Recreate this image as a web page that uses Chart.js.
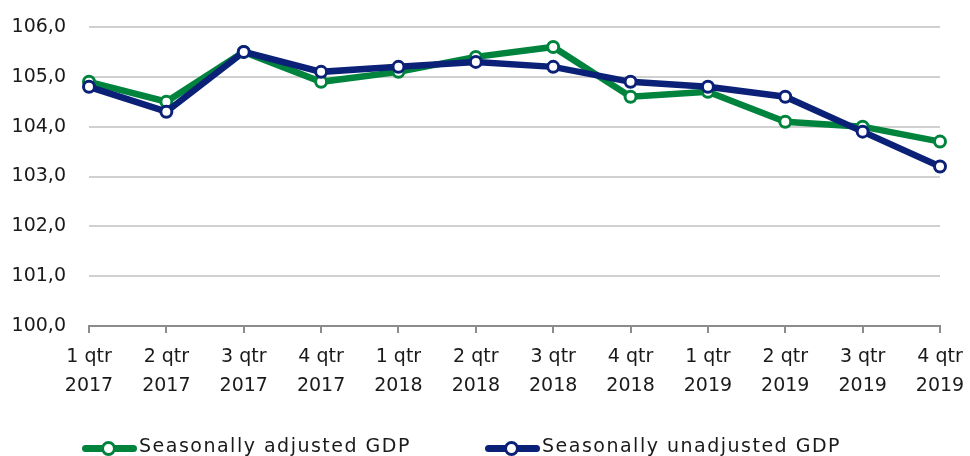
<!DOCTYPE html>
<html>
<head>
<meta charset="utf-8">
<script src="https://cdn.jsdelivr.net/npm/chart.js@4/dist/chart.umd.min.js"></script>
<style>
  html, body { margin: 0; padding: 0; background: #fff; overflow: hidden; }
  .wrap { position: relative; width: 970px; height: 456px; }
  #legend { position: absolute; left: 82px; top: 435px; height: 20px; display: flex; align-items: center;
    font-family: "DejaVu Sans", sans-serif; font-size: 19px; line-height: 20px; letter-spacing: 1.5px;
    color: #1a1a1a; white-space: nowrap; }
  .item { display: flex; align-items: center; }
  .item:first-child { width: 403px; }
  .mark { position: relative; width: 55px; height: 7px; border-radius: 4px; margin-right: 2px; top: 3px; }
  .mark i { position: absolute; left: 19px; top: -4px; width: 9px; height: 9px; border-radius: 50%;
    background: #fff; border: 3px solid; }
</style>
</head>
<body>
<div class="wrap">
  <canvas id="gdp"></canvas>
  <div id="legend"></div>
</div>
<script>
const quarters = [
  ['1 qtr', '2017'], ['2 qtr', '2017'], ['3 qtr', '2017'], ['4 qtr', '2017'],
  ['1 qtr', '2018'], ['2 qtr', '2018'], ['3 qtr', '2018'], ['4 qtr', '2018'],
  ['1 qtr', '2019'], ['2 qtr', '2019'], ['3 qtr', '2019'], ['4 qtr', '2019']
];
const adjusted   = [104.9, 104.5, 105.5, 104.9, 105.1, 105.4, 105.6, 104.6, 104.7, 104.1, 104.0, 103.7];
const unadjusted = [104.8, 104.3, 105.5, 105.1, 105.2, 105.3, 105.2, 104.9, 104.8, 104.6, 103.9, 103.2];
const yTicks = [100, 101, 102, 103, 104, 105, 106];

const GREEN = '#00843d';
const NAVY = '#0b2177';
const AXIS = '#8c8c8c';

Chart.defaults.font.family = '"DejaVu Sans", sans-serif';
Chart.defaults.font.size = 19;
Chart.defaults.color = '#1a1a1a';

const line = (label, data, color, order) => ({
  label, data, order,
  borderColor: color,
  borderWidth: 6.5,
  tension: 0,
  pointRadius: 5.5,
  pointHoverRadius: 5.5,
  pointBorderWidth: 3,
  pointBorderColor: color,
  pointBackgroundColor: '#fff'
});

const chart = new Chart(document.getElementById('gdp'), {
  type: 'line',
  data: {
    labels: quarters,
    datasets: [
      line('Seasonally adjusted GDP', adjusted, GREEN, 1),
      line('Seasonally unadjusted GDP', unadjusted, NAVY, 0)
    ]
  },
  options: {
    responsive: true,
    maintainAspectRatio: false,
    animation: false,
    layout: { padding: { top: 27, right: 30, left: 0, bottom: 0 } },
    plugins: { legend: { display: false }, tooltip: { enabled: false } },
    scales: {
      x: {
        offset: false,
        afterFit: (s) => { s.height = 130; s.paddingLeft = 0; s.paddingRight = 0; },
        grid: { drawOnChartArea: false, drawTicks: true, tickLength: 7, color: AXIS, lineWidth: 2 },
        border: { display: true, color: AXIS, width: 2 },
        ticks: { padding: 10, maxRotation: 0, autoSkip: false, font: { size: 19, lineHeight: 1.52 } }
      },
      y: {
        min: yTicks[0],
        max: yTicks[yTicks.length - 1],
        afterFit: (s) => { s.width = 89; s.paddingTop = 0; s.paddingBottom = 0; },
        afterBuildTicks: (s) => { s.ticks = yTicks.map(v => ({ value: v })); },
        grid: {
          drawTicks: false,
          lineWidth: 2,
          color: (c) => c.tick && c.tick.value === yTicks[0] ? AXIS : '#d0d0d0'
        },
        border: { display: false },
        ticks: { padding: 23, callback: (v) => v.toFixed(1).replace('.', ',') }
      }
    }
  }
});

// legend drawn as html below the canvas
const legend = document.getElementById('legend');
chart.data.datasets.forEach(ds => {
  const item = document.createElement('div');
  item.className = 'item';
  const mark = document.createElement('span');
  mark.className = 'mark';
  mark.style.background = ds.borderColor;
  const dot = document.createElement('i');
  dot.style.borderColor = ds.borderColor;
  mark.appendChild(dot);
  const txt = document.createElement('span');
  txt.textContent = ds.label;
  item.appendChild(mark);
  item.appendChild(txt);
  legend.appendChild(item);
});
</script>
</body>
</html>
